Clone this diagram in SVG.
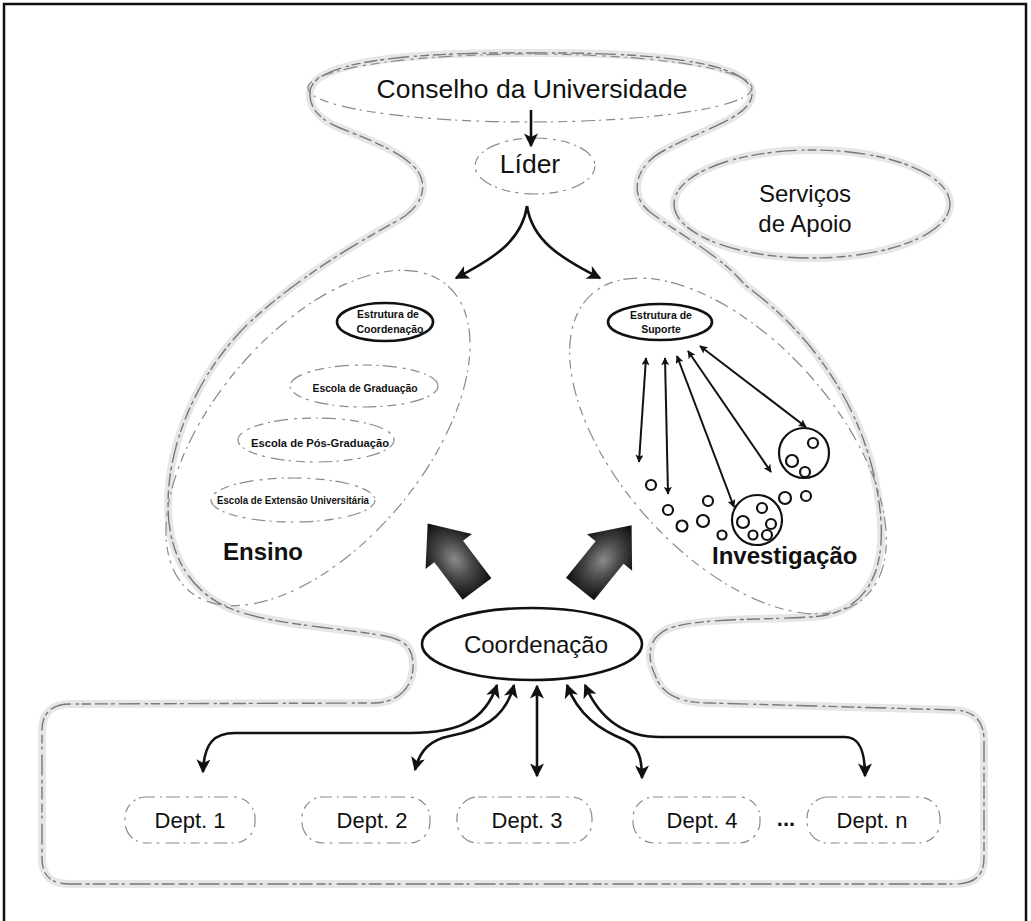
<svg xmlns="http://www.w3.org/2000/svg" width="1031" height="921" viewBox="0 0 1031 921">
  <style>
    text { font-family: "Liberation Sans", Arial, sans-serif; fill: #111; }
    .big { font-size: 26.5px; }
    .lbl { font-size: 24px; }
    .dep { font-size: 22px; }
    .bold { font-weight: bold; }
    .tiny { font-size: 10.5px; font-weight: bold; }
    .band { fill: none; stroke: #e6e6e6; stroke-width: 8; stroke-linejoin: round; }
    .sketch { fill: none; stroke: #777; stroke-width: 1.4; stroke-dasharray: 12 4 3 5 20 6 2 4 8 5; stroke-linecap: round; }
    .soft { fill: none; stroke: #8a8a8a; stroke-width: 1.2; stroke-dasharray: 9 5 2 4 14 6 3 5; }
    .solid { fill: #fff; stroke: #111; stroke-width: 2.6; }
    .conn { fill: none; stroke: #111; stroke-width: 2.6; }
    .thin { fill: none; stroke: #111; stroke-width: 2; }
    .ring { fill: none; stroke: #111; stroke-width: 2.2; }
  </style>
  <defs>
    <marker id="head" viewBox="0 0 10 10" refX="9" refY="5" markerWidth="16" markerHeight="14" markerUnits="userSpaceOnUse" orient="auto-start-reverse">
      <path d="M0,0 L10,5 L0,10 L2.5,5 Z" fill="#111"/>
    </marker>
    <marker id="headS" viewBox="0 0 10 10" refX="9" refY="5" markerWidth="9" markerHeight="8" markerUnits="userSpaceOnUse" orient="auto-start-reverse">
      <path d="M0,0 L10,5 L0,10 L2,5 Z" fill="#111"/>
    </marker>
    <radialGradient id="fatFill" cx="0.5" cy="0.55" r="0.55">
      <stop offset="0" stop-color="#8a8a8a"/>
      <stop offset="0.45" stop-color="#4a4a4a"/>
      <stop offset="1" stop-color="#0a0a0a"/>
    </radialGradient>
  </defs>

  <rect x="0" y="0" width="1031" height="921" fill="#fff"/>
  <!-- page frame -->
  <rect x="4" y="4" width="1022" height="945" fill="none" stroke="#111" stroke-width="2.5"/>

  <!-- outer organisation outline -->
  <g id="organisation">
    <path id="outline" class="band" d="M310,95 C305,60 420,52 530,53 C640,52 755,60 752,95 C750,118 700,130 665,150 C635,165 628,195 650,212 C680,235 720,255 745,285 C820,340 870,420 880,510 C888,580 860,615 810,617 C760,620 700,618 670,628 C645,638 648,660 655,675 C662,695 680,703 710,703 L955,710 C975,711 984,722 984,740 L984,858 C984,875 975,884 955,884 L70,884 C50,884 42,875 42,858 L42,730 C42,713 52,704 70,704 L375,703 C398,702 412,688 413,668 C414,648 405,640 385,636 C340,628 280,625 240,612 C195,598 168,560 168,505 C168,440 200,370 250,322 C290,285 340,252 395,222 C418,210 428,192 420,175 C410,155 370,140 340,128 C320,120 310,108 310,95 Z"/>
    <path class="sketch" d="M310,95 C305,60 420,52 530,53 C640,52 755,60 752,95 C750,118 700,130 665,150 C635,165 628,195 650,212 C680,235 720,255 745,285 C820,340 870,420 880,510 C888,580 860,615 810,617 C760,620 700,618 670,628 C645,638 648,660 655,675 C662,695 680,703 710,703 L955,710 C975,711 984,722 984,740 L984,858 C984,875 975,884 955,884 L70,884 C50,884 42,875 42,858 L42,730 C42,713 52,704 70,704 L375,703 C398,702 412,688 413,668 C414,648 405,640 385,636 C340,628 280,625 240,612 C195,598 168,560 168,505 C168,440 200,370 250,322 C290,285 340,252 395,222 C418,210 428,192 420,175 C410,155 370,140 340,128 C320,120 310,108 310,95 Z"/>
  </g>

  <g id="conselho">
    <ellipse class="soft" cx="530" cy="88" rx="222" ry="34"/>
    <text class="big" x="532" y="98" text-anchor="middle">Conselho da Universidade</text>
  </g>

  <g id="lider">
    <ellipse class="soft" cx="535" cy="166" rx="60" ry="28"/>
    <text class="big" x="530" y="173" text-anchor="middle">Líder</text>
  </g>

  <g id="servicos">
    <ellipse class="band" cx="812" cy="204" rx="138" ry="54"/>
    <ellipse class="sketch" cx="812" cy="204" rx="138" ry="54"/>
    <text class="lbl" x="805" y="202" text-anchor="middle" font-size="25">Serviços</text>
    <text class="lbl" x="805" y="232" text-anchor="middle" font-size="25">de Apoio</text>
  </g>

  <g id="ensino">
    <ellipse class="soft" cx="318" cy="438" rx="106" ry="200" transform="rotate(40 318 438)"/>
    <ellipse class="solid" cx="385" cy="322" rx="48" ry="19"/>
    <text class="tiny" x="388" y="318" text-anchor="middle">Estrutura de</text>
    <text class="tiny" x="390" y="333" text-anchor="middle">Coordenação</text>
    <ellipse class="soft" cx="364" cy="386" rx="74" ry="21"/>
    <text class="tiny" x="365" y="392" text-anchor="middle" textLength="105" lengthAdjust="spacingAndGlyphs">Escola de Graduação</text>
    <ellipse class="soft" cx="316" cy="440" rx="78" ry="22"/>
    <text class="tiny" x="320" y="447" text-anchor="middle" textLength="138" lengthAdjust="spacingAndGlyphs">Escola de Pós-Graduação</text>
    <ellipse class="soft" cx="293" cy="500" rx="82" ry="22"/>
    <text class="tiny" x="293" y="504" text-anchor="middle" textLength="152" lengthAdjust="spacingAndGlyphs" font-size="9.5">Escola de Extensão Universitária</text>
    <text class="lbl bold" x="223" y="560">Ensino</text>
  </g>

  <g id="investigacao">
    <ellipse class="soft" cx="728" cy="446" rx="108" ry="204" transform="rotate(-42 728 446)"/>
    <ellipse class="solid" cx="660" cy="322" rx="52" ry="18"/>
    <text class="tiny" x="661" y="319" text-anchor="middle" font-size="9.5">Estrutura de</text>
    <text class="tiny" x="661" y="333" text-anchor="middle" font-size="9.5">Suporte</text>
    <!-- research groups -->
    <circle class="ring" cx="804" cy="453" r="25"/>
    <circle class="ring" cx="813" cy="443" r="5"/>
    <circle class="ring" cx="792" cy="461" r="6"/>
    <circle class="ring" cx="805" cy="472" r="5"/>
    <circle class="ring" cx="757" cy="520" r="25"/>
    <circle class="ring" cx="762" cy="508" r="5"/>
    <circle class="ring" cx="743" cy="522" r="6"/>
    <circle class="ring" cx="771" cy="524" r="5"/>
    <circle class="ring" cx="753" cy="535" r="4.5"/>
    <circle class="ring" cx="767" cy="535" r="5"/>
    <circle class="ring" cx="651" cy="485" r="5"/>
    <circle class="ring" cx="668" cy="510" r="5"/>
    <circle class="ring" cx="682" cy="526" r="5.5"/>
    <circle class="ring" cx="703" cy="521" r="6"/>
    <circle class="ring" cx="708" cy="501" r="5"/>
    <circle class="ring" cx="722" cy="535" r="4.5"/>
    <circle class="ring" cx="785" cy="498" r="6"/>
    <circle class="ring" cx="806" cy="496" r="5"/>
    <text class="lbl bold" x="712" y="564">Investigação</text>
  </g>

  <g id="coordenacao">
    <ellipse class="solid" cx="532" cy="644" rx="110" ry="36" stroke-width="3"/>
    <text class="lbl" x="536" y="653" text-anchor="middle">Coordenação</text>
  </g>

  <g id="dept-1">
    <rect class="soft" x="125" y="797" width="130" height="46" rx="21"/>
    <text class="dep" x="190" y="828" text-anchor="middle">Dept. 1</text>
  </g>
  <g id="dept-2">
    <rect class="soft" x="302" y="797" width="128" height="46" rx="21"/>
    <text class="dep" x="372" y="828" text-anchor="middle">Dept. 2</text>
  </g>
  <g id="dept-3">
    <rect class="soft" x="457" y="797" width="135" height="46" rx="21"/>
    <text class="dep" x="527" y="828" text-anchor="middle">Dept. 3</text>
  </g>
  <g id="dept-4">
    <rect class="soft" x="633" y="797" width="127" height="46" rx="21"/>
    <text class="dep" x="702" y="828" text-anchor="middle">Dept. 4</text>
  </g>
  <text class="dep bold" x="786" y="826" text-anchor="middle">...</text>
  <g id="dept-n">
    <rect class="soft" x="807" y="797" width="133" height="46" rx="21"/>
    <text class="dep" x="872" y="828" text-anchor="middle">Dept. n</text>
  </g>

  <!-- connectors -->
  <g id="connectors">
    <path class="conn" d="M531,110 L531,146" marker-end="url(#head)"/>
    <path class="conn" d="M527,206 C522,240 495,258 456,278" marker-end="url(#head)"/>
    <path class="conn" d="M527,206 C532,240 560,258 600,278" marker-end="url(#head)"/>

    <path class="thin" d="M646,358 L639,462" marker-start="url(#headS)" marker-end="url(#headS)"/>
    <path class="thin" d="M665,358 L668,494" marker-start="url(#headS)" marker-end="url(#headS)"/>
    <path class="thin" d="M677,356 L734,507" marker-start="url(#headS)" marker-end="url(#headS)"/>
    <path class="thin" d="M688,351 L771,472" marker-start="url(#headS)" marker-end="url(#headS)"/>
    <path class="thin" d="M700,346 L806,427" marker-start="url(#headS)" marker-end="url(#headS)"/>

    <path class="conn" d="M497,685 C485,720 460,733 410,733 L235,733 C215,733 204,742 203,772" marker-start="url(#head)" marker-end="url(#head)"/>
    <path class="conn" d="M514,685 C505,720 480,730 450,736 C430,740 420,750 415,770" marker-start="url(#head)" marker-end="url(#head)"/>
    <path class="conn" d="M537,686 L537,776" marker-start="url(#head)" marker-end="url(#head)"/>
    <path class="conn" d="M567,685 C578,715 600,730 625,740 C638,746 642,757 642,778" marker-start="url(#head)" marker-end="url(#head)"/>
    <path class="conn" d="M585,685 C600,720 625,737 660,737 L845,737 C858,737 865,748 865,776" marker-start="url(#head)" marker-end="url(#head)"/>

    <!-- broad arrows from coordination towards teaching and research -->
    <path fill="url(#fatFill)" d="M-18,0 L-18,-47 L-29,-47 L0,-82 L29,-47 L18,-47 L18,0 Z" transform="translate(477,589) rotate(-37)"/>
    <path fill="url(#fatFill)" d="M-18,0 L-18,-47 L-29,-47 L0,-82 L29,-47 L18,-47 L18,0 Z" transform="translate(580,589) rotate(39)"/>
  </g>
</svg>
